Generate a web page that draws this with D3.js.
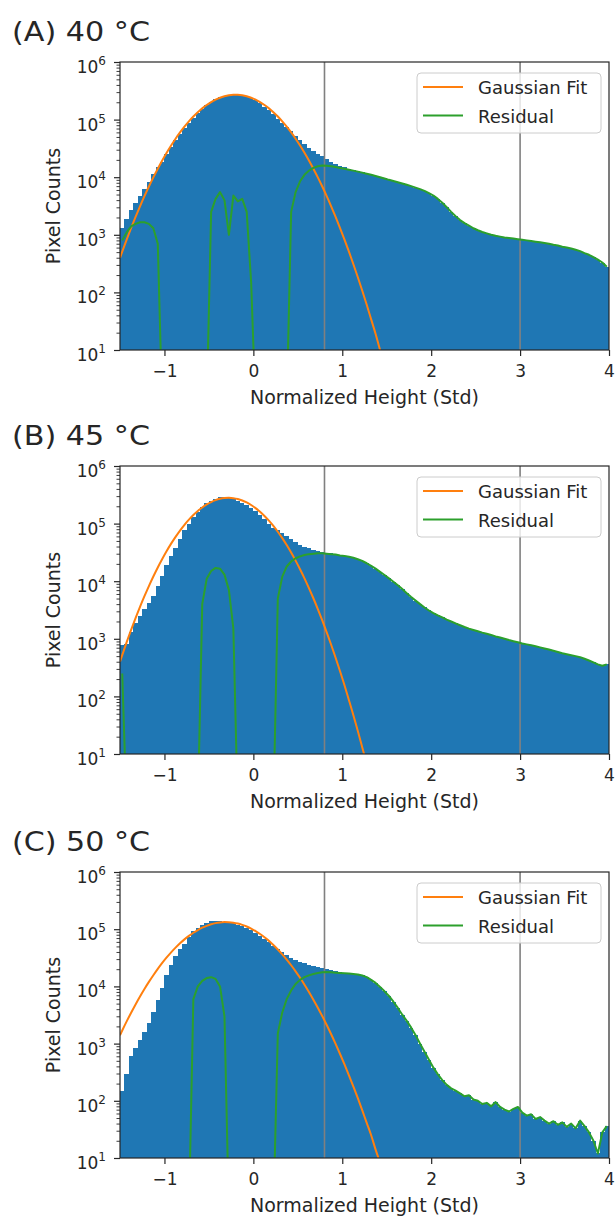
<!DOCTYPE html>
<html><head><meta charset="utf-8">
<script src="https://cdn.jsdelivr.net/npm/d3@7"></script>
<style>
body{margin:0;background:#fff}
svg{display:block}
text{font-family:"DejaVu Sans",sans-serif;fill:#262626}
</style>
</head><body>
<svg id="c" width="616" height="1216"></svg>
<script>
// ---------------- data ----------------
const panelTitles = ["(A) 40 °C", "(B) 45 °C", "(C) 50 °C"];
const xLabel = "Normalized Height (Std)";
const yLabel = "Pixel Counts";
const legendLabels = ["Gaussian Fit", "Residual"];
const xTicks = [-1, 0, 1, 2, 3, 4];
const yTickExps = [1, 2, 3, 4, 5, 6];
const refLines = [0.8, 3];

const binEdges = [-1.5,-1.45,-1.4,-1.35,-1.3,-1.25,-1.2,-1.15,-1.1,-1.05,-1,-0.95,-0.9,-0.85,-0.8,-0.75,-0.7,-0.65,-0.6,-0.55,-0.5,-0.45,-0.4,-0.35,-0.3,-0.25,-0.2,-0.15,-0.1,-0.05,0,0.05,0.1,0.15,0.2,0.25,0.3,0.35,0.4,0.45,0.5,0.55,0.6,0.65,0.7,0.75,0.8,0.85,0.9,0.95,1,1.05,1.1,1.15,1.2,1.25,1.3,1.35,1.4,1.45,1.5,1.55,1.6,1.65,1.7,1.75,1.8,1.85,1.9,1.95,2,2.05,2.1,2.15,2.2,2.25,2.3,2.35,2.4,2.45,2.5,2.55,2.6,2.65,2.7,2.75,2.8,2.85,2.9,2.95,3,3.05,3.1,3.15,3.2,3.25,3.3,3.35,3.4,3.45,3.5,3.55,3.6,3.65,3.7,3.75,3.8,3.85,3.9,3.95,4];

// histogram counts per bin
const countsA = [1310,1900,2700,3600,4800,6300,8400,11200,14800,18500,
 25000,33500,44000,56500,71000,88000,107000,128000,150000,176000,
 204000,226000,245400,258100,265000,274000,273000,268200,256600,240000,
 215000,192000,168000,145000,124000,104000,87000,73000,62300,52000,
 44000,37600,32500,28600,25400,22900,20500,18600,17000,15800,
 14800,14000,13300,12700,12100,11560,11030,10520,10010,9505,
 9000,8600,8200,7800,7400,7000,6600,6200,5800,5300,
 4800,4200,3600,3000,2500,2100,1800,1600,1450,1300,
 1200,1120,1060,1000,960,930,900,880,860,840,
 820,800,780,760,740,720,700,670,650,620,
 600,580,550,520,480,450,410,370,330,280];
const countsB = [770,820,1300,1900,2500,3300,4200,5600,8200,12500,
 19000,27000,38000,54000,78000,100000,132000,160000,195000,225800,
 251700,272200,285700,290300,286900,277700,250000,232000,212000,190000,
 165000,140000,118000,99000,84000,77100,67850,60360,53410,47750,
 43140,39720,37100,35060,33780,32580,31300,30290,29470,28270,
 27660,26590,25547,24025,22513,20500,18500,16500,14500,12800,
 11200,9800,8500,7300,6200,5300,4600,4000,3500,3100,
 2800,2550,2350,2150,2000,1850,1720,1600,1500,1420,
 1350,1280,1220,1160,1100,1050,1000,950,910,870,
 830,800,770,740,710,680,650,620,590,560,
 540,520,500,480,450,420,390,360,340,360];
const countsC = [150,300,600,850,1150,1600,2300,3500,5700,9500,
 16000,24000,34000,45000,56000,74000,92700,106600,118700,128600,
 136400,141100,141200,136000,130000,126000,120000,113000,104000,95000,
 86000,77000,68000,59000,51500,45760,39890,35440,31940,29340,
 27130,25220,23600,22370,21450,20620,19910,19056,18386,17858,
 17432,17079,16677,16311,15568,14541,13025,11514,9800,8200,
 6800,5400,4200,3200,2500,1900,1400,1000,720,520,
 380,290,230,190,165,150,135,120,125,105,
 100,88,92,80,95,78,70,65,72,78,
 62,55,58,48,52,45,40,44,38,42,
 35,40,33,45,36,28,20,12,28,36];

// Gaussian fit, sampled at x = -1.5 and then at the bin centres
const gaussA = [397,510,826,1312,2042,3126,4690,6890,9940,14060,19540,
 26600,35500,46500,59800,75300,93100,113000,134300,156700,179500,
 201400,221800,239900,254100,264000,269200,269200,264000,254100,239900,
 221800,201400,179500,156700,134300,113000,93100,75300,59800,46500,
 35500,26600,19540,14060,9940,6890,4690,3126,2042,1312,
 826,510,308,183,107,61,34,19,10,5.4];
const gaussB = [400,521,873,1429,2291,3589,5495,8241,12080,17340,24320,
 33420,44870,58880,75680,95280,116900,140900,165600,190800,214800,
 236700,255200,269200,277300,279900,276200,266600,251800,232600,210100,
 185800,160700,135900,112500,91200,72100,55850,42360,31410,22750,
 16140,11220,7600,5060,3280,2080,1297,789,469,273,
 156,86,47,25,13,6.7];
const gaussC = [1400,1694,2443,3467,4842,6668,9016,11990,15700,20280,25700,
 32100,39450,47640,56750,66370,76380,86700,96600,106200,114600,
 121900,127600,131200,133000,132400,130000,125600,119100,111400,102500,
 92700,82600,72400,62500,52970,44260,36390,29440,23440,18340,
 14130,10720,8000,5870,4250,3020,2110,1456,986,658,
 432,279,177,111,68,41,25,14,8.3];

// residual (histogram - fit) at bin centres; null = negative (not drawn)
const N = null;
const residAHead = [800,1100,1400,1550,1650,1650,1550,1300,700,1,
 N,N,N,N,N,N,N,N,N,1,
 2500,4200,5500,4000,1000,4800,3800,4200,2500,150,
 1,N,N,N,N,N,N,1,2500,5500,
 8500,11000,13000,14500,15500,16000,15800,15500,15000,14500,
 14000,13500,13000,12500,12000,11500,11000,10500,10000,9500];
const residBHead = [250,1,N,N,N,N,N,N,N,N,
 N,N,N,N,N,N,N,1,4000,11000,
 15000,17000,16500,13000,7000,1500,1,N,N,N,
 N,N,N,N,1,5000,12000,18000,22000,25000,
 27000,28500,29500,30000,30500,30500,30000,29500,29000,28000,
 27500,26500,25500,24000,22500];
const residCHead = [N,N,N,N,N,N,N,N,N,N,
 N,N,N,N,N,1,6000,10000,12500,14000,
 14500,13500,10000,3000,1,N,N,N,N,N,
 N,N,N,N,1,1500,3500,6000,8500,11000,
 13000,14500,15600,16500,17200,17600,17800,17600,17400,17200,
 17000,16800,16500,16200,15500,14500,13000,11500];
// beyond the fit the residual equals the histogram
const residA = residAHead.concat(countsA.slice(residAHead.length));
const residB = residBHead.concat(countsB.slice(residBHead.length));
const residC = residCHead.concat(countsC.slice(residCHead.length));

// ---------------- drawing ----------------
const C_BAR = "#1f77b4", C_FIT = "#ff7f0e", C_RES = "#2ca02c", C_REF = "#808080", C_AX = "#262626";
const svg = d3.select("#c");
const plotL = 120, plotR = 609;
const panelTop = [62, 466, 872];
const panelH = [288, 288, 286];
const centers = binEdges.slice(0, -1).map((e, i) => (e + binEdges[i + 1]) / 2);
const gaussX = [binEdges[0]].concat(centers);

const panels = [
  {title: panelTitles[0], counts: countsA, gauss: gaussA, resid: residA},
  {title: panelTitles[1], counts: countsB, gauss: gaussB, resid: residB},
  {title: panelTitles[2], counts: countsC, gauss: gaussC, resid: residC}
];
const defs = svg.append("defs");

panels.forEach((p, i) => {
  const top = panelTop[i], h = panelH[i], bottom = top + h;
  const x = d3.scaleLinear().domain([binEdges[0], binEdges[binEdges.length - 1]]).range([plotL, plotR]);
  const y = d3.scaleLog().domain([Math.pow(10, yTickExps[0]), Math.pow(10, yTickExps[yTickExps.length - 1])]).range([bottom, top]);
  const g = svg.append("g");

  const cid = "clip" + i;
  defs.append("clipPath").attr("id", cid).append("rect")
    .attr("x", plotL).attr("y", top).attr("width", plotR - plotL).attr("height", h);
  const plot = g.append("g").attr("clip-path", `url(#${cid})`);

  // histogram bars
  plot.selectAll("rect.bar").data(p.counts).join("rect").attr("class", "bar")
    .attr("x", (d, j) => x(binEdges[j]))
    .attr("width", (d, j) => x(binEdges[j + 1]) - x(binEdges[j]))
    .attr("y", d => y(d))
    .attr("height", d => bottom - y(d))
    .attr("fill", C_BAR)
    .attr("shape-rendering", "crispEdges");

  // reference vertical lines
  plot.selectAll("line.ref").data(refLines).join("line").attr("class", "ref")
    .attr("x1", d => x(d)).attr("x2", d => x(d))
    .attr("y1", top).attr("y2", bottom)
    .attr("stroke", C_REF).attr("stroke-width", 1.6);

  // gaussian fit
  const gaussPts = p.gauss.map((v, j) => [gaussX[j], v]);
  plot.append("path").datum(gaussPts)
    .attr("d", d3.line().x(d => x(d[0])).y(d => y(d[1])).curve(d3.curveMonotoneX))
    .attr("fill", "none").attr("stroke", C_FIT).attr("stroke-width", 2);

  // residual
  const resPts = p.resid.map((v, j) => [centers[j], v]);
  plot.append("path").datum(resPts)
    .attr("d", d3.line().defined(d => d[1] != null).x(d => x(d[0])).y(d => y(d[1])))
    .attr("fill", "none").attr("stroke", C_RES).attr("stroke-width", 2)
    .attr("stroke-linejoin", "round");

  // frame
  g.append("rect").attr("x", plotL).attr("y", top).attr("width", plotR - plotL).attr("height", h)
    .attr("fill", "none").attr("stroke", C_AX).attr("stroke-width", 1.2);

  // x axis
  const xa = g.append("g").attr("transform", `translate(0,${bottom})`)
    .call(d3.axisBottom(x).tickValues(xTicks).tickSize(6).tickFormat(d => d < 0 ? "\u2212" + Math.abs(d) : String(d)));
  xa.select(".domain").remove();
  xa.selectAll(".tick line").attr("stroke", C_AX).attr("stroke-width", 1.2);
  xa.selectAll(".tick text").attr("font-family", "DejaVu Sans").attr("font-size", 17)
    .attr("fill", C_AX).attr("dy", null).attr("y", 27);

  // y axis: major + minor ticks
  const majors = yTickExps.map(e => Math.pow(10, e));
  const minors = y.ticks().filter(v => !majors.some(m => Math.abs(m - v) < 1e-6));
  const yaMin = g.append("g").attr("transform", `translate(${plotL},0)`)
    .call(d3.axisLeft(y).tickValues(minors).tickSize(3.5).tickFormat(""));
  yaMin.select(".domain").remove();
  yaMin.selectAll(".tick line").attr("stroke", C_AX).attr("stroke-width", 0.9);
  const ya = g.append("g").attr("transform", `translate(${plotL},0)`)
    .call(d3.axisLeft(y).tickValues(majors).tickSize(6).tickFormat(""));
  ya.select(".domain").remove();
  ya.selectAll(".tick line").attr("stroke", C_AX).attr("stroke-width", 1.2);
  yTickExps.forEach(e => {
    const t = g.append("text").attr("x", 106).attr("y", y(Math.pow(10, e)) + 11)
      .attr("text-anchor", "end").attr("font-size", 17);
    t.append("tspan").text("10");
    t.append("tspan").attr("font-size", 12).attr("dy", -8).text(String(e));
  });

  // axis labels
  g.append("text").attr("x", (plotL + plotR) / 2).attr("y", bottom + 54)
    .attr("text-anchor", "middle").attr("font-size", 19).text(xLabel);
  g.append("text").attr("transform", `translate(60,${(top + bottom) / 2}) rotate(-90)`)
    .attr("text-anchor", "middle").attr("font-size", 19).text(yLabel);

  // panel title
  g.append("text").attr("x", 12).attr("y", top - 21).attr("font-size", 26)
    .attr("textLength", 138).attr("lengthAdjust", "spacingAndGlyphs").text(p.title);

  // legend
  const lg = g.append("g").attr("transform", `translate(417,${top + 11})`);
  lg.append("rect").attr("width", 184).attr("height", 60).attr("rx", 4)
    .attr("fill", "#fff").attr("fill-opacity", 0.8).attr("stroke", "#cccccc").attr("stroke-width", 1);
  [C_FIT, C_RES].forEach((c, k) => {
    const ly = 14 + k * 28.5;
    lg.append("line").attr("x1", 6).attr("x2", 46).attr("y1", ly).attr("y2", ly)
      .attr("stroke", c).attr("stroke-width", 2);
    lg.append("text").attr("x", 61).attr("y", ly + 7).attr("font-size", 18).text(legendLabels[k]);
  });
});
</script>
</body></html>
